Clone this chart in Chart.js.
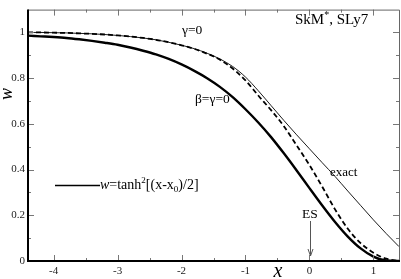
<!DOCTYPE html>
<html>
<head>
<meta charset="utf-8">
<script src="https://cdn.jsdelivr.net/npm/chart.js@4.4.0/dist/chart.umd.min.js"></script>
<style>
  html, body { margin: 0; padding: 0; background: #fff; }
  #wrap { width: 401px; height: 279px; }
</style>
</head>
<body>
<div id="wrap"><canvas id="chart" width="401" height="279"></canvas></div>
<script>
// values
const xValues = [-4.4, -4.2, -4.0, -3.8, -3.6, -3.4, -3.2, -3.0, -2.8, -2.6,
                 -2.4, -2.2, -2.0, -1.8, -1.6, -1.4, -1.2, -1.0, -0.8, -0.6,
                 -0.4, -0.2, 0.0, 0.2, 0.4, 0.6, 0.8, 1.0, 1.2, 1.4];
const wExact = [1.000, 1.000, 0.999, 0.998, 0.996, 0.994, 0.991, 0.987, 0.982, 0.976,
                0.968, 0.957, 0.944, 0.929, 0.909, 0.884, 0.851, 0.805, 0.745, 0.680,
                0.615, 0.552, 0.491, 0.430, 0.370, 0.306, 0.243, 0.180, 0.120, 0.063];
const wGamma0 = [1.000, 1.000, 0.999, 0.998, 0.996, 0.994, 0.991, 0.987, 0.982, 0.976,
                 0.968, 0.957, 0.944, 0.928, 0.907, 0.881, 0.842, 0.790, 0.724, 0.660,
                 0.590, 0.506, 0.420, 0.325, 0.226, 0.141, 0.078, 0.036, 0.010, 0.000];
const wBetaGamma0 = [0.986, 0.983, 0.980, 0.976, 0.970, 0.963, 0.955, 0.946, 0.934, 0.920,
                     0.904, 0.884, 0.860, 0.832, 0.800, 0.762, 0.717, 0.664, 0.606, 0.542,
                     0.471, 0.396, 0.319, 0.243, 0.171, 0.107, 0.055, 0.019, 0.002, 0.000];
const xTickValues = [-4, -3, -2, -1, 0, 1];
const yTickValues = [0, 0.2, 0.4, 0.6, 0.8, 1];

const SERIF = "'Liberation Serif', 'DejaVu Serif', serif";

function toPoints(ys) {
    return xValues.map(function(x, i) { return { x: x, y: ys[i] }; });
}

// draws text pieces one after another, each with its own font and shift
function drawRich(ctx, x, y, parts) {
    parts.forEach(function(p) {
        ctx.font = p.font;
        ctx.fillText(p.text, x, y + (p.dy || 0));
        x += ctx.measureText(p.text).width;
    });
}

const framePlugin = {
    id: 'frame',
    afterDatasetsDraw: function(chart) {
        let ctx = chart.ctx;
        let a = chart.chartArea;
        let sx = chart.scales.x, sy = chart.scales.y;
        ctx.save();

        // inward ticks on all four sides
        ctx.strokeStyle = '#777';
        ctx.lineWidth = 1;
        ctx.beginPath();
        for (let i = -8; i <= 2; i++) {
            let v = i / 2;
            let px = Math.round(sx.getPixelForValue(v)) + 0.5;
            let len = (i % 2 === 0) ? 6 : 3;
            ctx.moveTo(px, a.bottom); ctx.lineTo(px, a.bottom - len);
            ctx.moveTo(px, a.top); ctx.lineTo(px, a.top + len);
        }
        for (let i = 0; i <= 10; i++) {
            let v = i / 10;
            let py = Math.round(sy.getPixelForValue(v)) + 0.5;
            let len = (i % 2 === 0) ? 6 : 3;
            ctx.moveTo(a.left, py); ctx.lineTo(a.left + len, py);
            ctx.moveTo(a.right, py); ctx.lineTo(a.right - len, py);
        }
        ctx.stroke();

        // frame
        ctx.strokeStyle = '#666';
        ctx.lineWidth = 1;
        ctx.beginPath();
        ctx.moveTo(a.left, a.top + 0.5); ctx.lineTo(a.right + 0.5, a.top + 0.5);
        ctx.lineTo(a.right + 0.5, a.bottom);
        ctx.stroke();
        ctx.strokeStyle = '#000';
        ctx.lineWidth = 2;
        ctx.beginPath();
        ctx.moveTo(a.left, a.top); ctx.lineTo(a.left, a.bottom);
        ctx.lineTo(a.right + 1, a.bottom);
        ctx.stroke();

        // axis titles
        ctx.fillStyle = '#000';
        ctx.textBaseline = 'alphabetic';
        ctx.font = 'italic 20px ' + SERIF;
        ctx.textAlign = 'center';
        ctx.fillText('x', 278, 277);
        ctx.save();
        ctx.translate(12, 94);
        ctx.rotate(-Math.PI / 2);
        ctx.font = 'italic 18px ' + SERIF;
        ctx.fillText('w', 0, 0);
        ctx.restore();

        // labels
        ctx.textAlign = 'left';
        drawRich(ctx, 295, 24, [
            { text: 'SkM', font: '15px ' + SERIF },
            { text: '*', font: '10px ' + SERIF, dy: -6 },
            { text: ', SLy7', font: '15px ' + SERIF }
        ]);
        ctx.font = '13.5px ' + SERIF;
        ctx.fillText('\u03b3=0', 182, 34);
        ctx.fillText('\u03b2=\u03b3=0', 195, 103);
        ctx.font = '13px ' + SERIF;
        ctx.fillText('exact', 330, 176);
        ctx.textAlign = 'center';
        ctx.font = '13.5px ' + SERIF;
        ctx.fillText('ES', 310, 218);

        // ES arrow
        ctx.strokeStyle = '#555';
        ctx.lineWidth = 1;
        ctx.beginPath();
        ctx.moveTo(310.5, 221); ctx.lineTo(310.5, 256);
        ctx.moveTo(308, 249); ctx.lineTo(310.5, 256); ctx.lineTo(313, 249);
        ctx.stroke();

        // legend
        ctx.strokeStyle = '#000';
        ctx.lineWidth = 1.6;
        ctx.beginPath();
        ctx.moveTo(55, 185.5); ctx.lineTo(100, 185.5);
        ctx.stroke();
        ctx.textAlign = 'left';
        drawRich(ctx, 100, 189, [
            { text: 'w', font: 'italic 14px ' + SERIF },
            { text: '=tanh', font: '14px ' + SERIF },
            { text: '2', font: '9px ' + SERIF, dy: -6 },
            { text: '[(x-x', font: '14px ' + SERIF },
            { text: '0', font: '9px ' + SERIF, dy: 3 },
            { text: ')/2]', font: '14px ' + SERIF }
        ]);
        ctx.restore();
    }
};

let chart = new Chart(document.getElementById('chart'), {
    type: 'line',
    data: {
        datasets: [{
            label: 'exact',
            data: toPoints(wExact),
            borderColor: '#000',
            borderWidth: 0.9,
            pointRadius: 0,
            cubicInterpolationMode: 'monotone'
        }, {
            label: 'gamma=0',
            data: toPoints(wGamma0),
            borderColor: '#000',
            borderWidth: 1.8,
            borderDash: [5, 3],
            pointRadius: 0,
            cubicInterpolationMode: 'monotone'
        }, {
            label: 'beta=gamma=0',
            data: toPoints(wBetaGamma0),
            borderColor: '#000',
            borderWidth: 2.4,
            pointRadius: 0,
            cubicInterpolationMode: 'monotone'
        }]
    },
    options: {
        responsive: false,
        animation: false,
        events: [],
        layout: { padding: { left: 0, top: 1, right: 2, bottom: 0 } },
        plugins: { legend: { display: false }, tooltip: { enabled: false } },
        scales: {
            x: {
                type: 'linear',
                min: -4.4,
                max: 1.4,
                grid: { display: false, drawTicks: false },
                border: { display: false },
                afterBuildTicks: function(scale) {
                    scale.ticks = xTickValues.map(function(v) { return { value: v }; });
                },
                afterFit: function(scale) { scale.height = 18; },
                ticks: {
                    padding: 4,
                    color: '#222',
                    font: { family: SERIF, size: 11 },
                    callback: function(v) { return String(v); }
                }
            },
            y: {
                type: 'linear',
                min: 0,
                max: 1.1,
                grid: { display: false, drawTicks: false },
                border: { display: false },
                afterBuildTicks: function(scale) {
                    scale.ticks = yTickValues.map(function(v) { return { value: v }; });
                },
                afterFit: function(scale) { scale.width = 28; },
                ticks: {
                    padding: 3,
                    color: '#222',
                    font: { family: SERIF, size: 11 },
                    callback: function(v) { return String(+v.toFixed(1)); }
                }
            }
        }
    },
    plugins: [framePlugin]
});
</script>
</body>
</html>
